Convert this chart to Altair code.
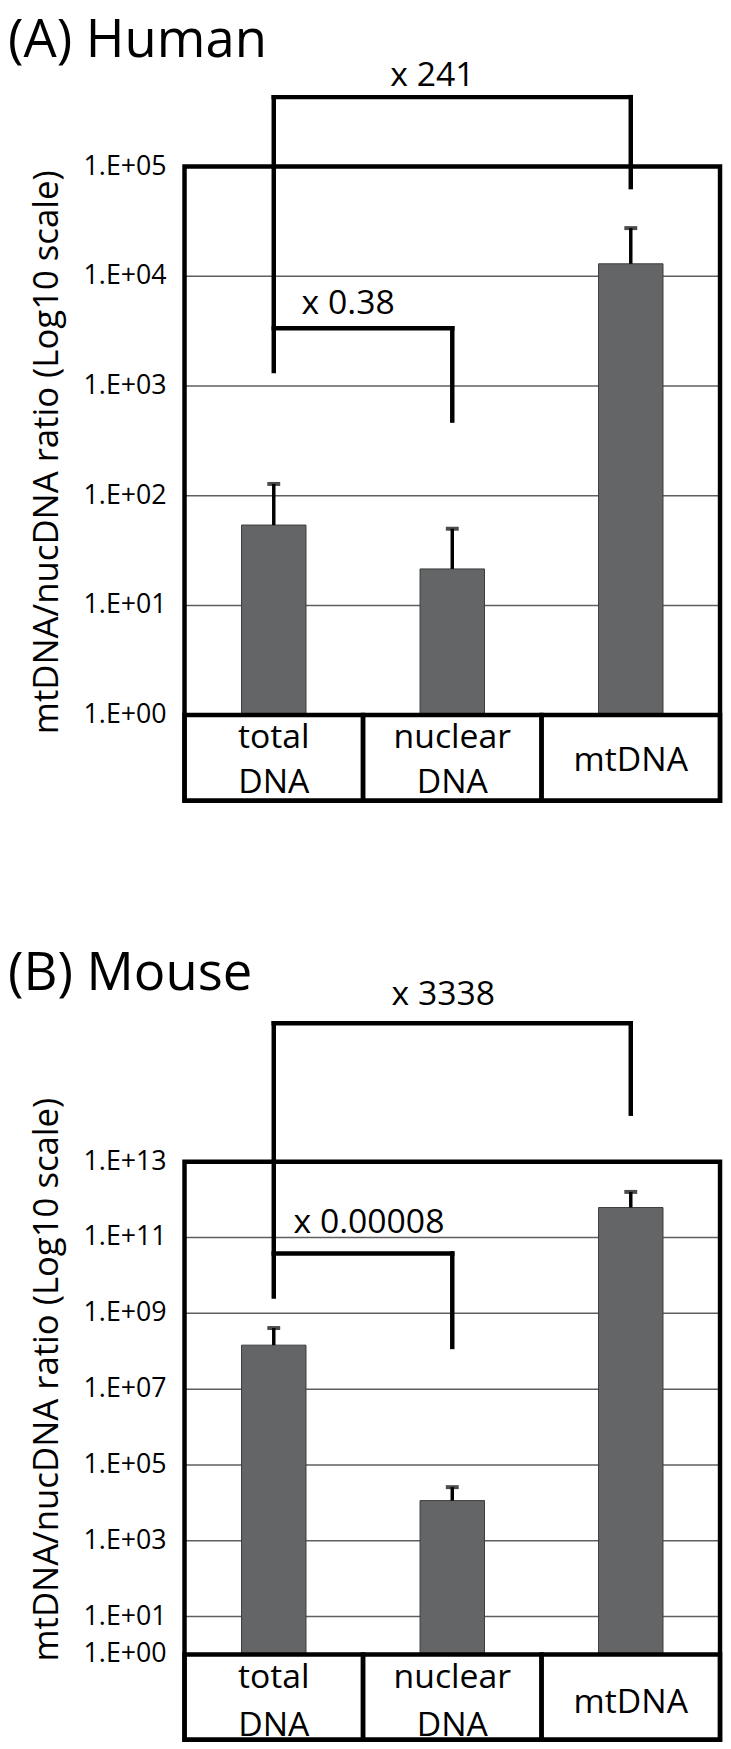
import altair as alt
import pandas as pd

# ---------------- data ----------------
categories = ["total DNA", "nuclear DNA", "mtDNA"]
category_labels = ["total\nDNA", "nuclear\nDNA", "mtDNA"]

human_mean = [54, 21.5, 13000]
human_upper = [128, 50, 27500]
mouse_mean = [1.45e8, 1.15e4, 6.2e11]
mouse_upper = [4.1e8, 2.6e4, 1.6e12]

human_ticks = [1, 10, 100, 1e3, 1e4, 1e5]
human_tick_labels = ["1.E+00", "1.E+01", "1.E+02", "1.E+03", "1.E+04", "1.E+05"]
mouse_ticks = [1, 10, 1e3, 1e5, 1e7, 1e9, 1e11, 1e13]
mouse_tick_labels = ["1.E+00", "1.E+01", "1.E+03", "1.E+05", "1.E+07", "1.E+09",
                     "1.E+11", "1.E+13"]

# comparison brackets (segments from c1/v1 to c2/v2)
human_br_c1 = ["total DNA", "total DNA", "mtDNA", "total DNA", "nuclear DNA"]
human_br_c2 = ["mtDNA", "total DNA", "mtDNA", "nuclear DNA", "nuclear DNA"]
human_br_v1 = [4.3e5, 4.3e5, 4.3e5, 3360, 3360]
human_br_v2 = [4.3e5, 1370, 6.5e4, 3360, 484]

mouse_br_c1 = ["total DNA", "total DNA", "mtDNA", "total DNA", "nuclear DNA"]
mouse_br_c2 = ["mtDNA", "total DNA", "mtDNA", "nuclear DNA", "nuclear DNA"]
mouse_br_v1 = [4.5e16, 4.5e16, 4.5e16, 3.8e10, 3.8e10]
mouse_br_v2 = [4.5e16, 2.8e9, 1.85e14, 3.8e10, 1.3e8]

human_fold = ["x 241", "x 0.38"]
human_fold_y = [5.4e5, 4500]
mouse_fold = ["x 3338", "x 0.00008"]
mouse_fold_y = [1.4e17, 1.35e11]

Y_TITLE = "mtDNA/nucDNA ratio (Log10 scale)"
FONT = "Open Sans"


def panel(title, mean, upper, ticks, tick_labels, dom, height, br, fold, fold_y,
          fold_dx, cat_y_two, cat_y_one, line_h, ytitle_at, title_offset):
    df = pd.DataFrame({"cat": categories, "label": category_labels,
                       "mean": mean, "upper": upper})
    one = pd.DataFrame({"k": [0]})
    tdf = pd.DataFrame({"tick": ticks, "tick_label": tick_labels})
    bdf = pd.DataFrame({"c1": br[0], "c2": br[1], "v1": br[2], "v2": br[3]})
    xs = alt.Scale(domain=categories, paddingInner=0, paddingOuter=0)
    ys = alt.Scale(type="log", domain=dom, nice=False)

    X = alt.X("cat:N", scale=xs, axis=None)
    XL = alt.XDatum(categories[0], bandPosition=0, scale=xs, axis=None)
    XR = alt.X2Datum(categories[-1], bandPosition=1)

    grid = alt.Chart(tdf).mark_rule(color="#5f5f5f", strokeWidth=1.5).encode(
        x=XL, x2=XR, y=alt.Y("tick:Q", scale=ys, axis=None))

    tick_text = alt.Chart(tdf).mark_text(
        font=FONT, fontSize=27, align="right", baseline="middle", dx=-18,
        color="black").encode(
        x=XL, y=alt.Y("tick:Q", scale=ys, axis=None), text="tick_label:N")

    y_title = alt.Chart(one).mark_text(
        font=FONT, fontSize=35, angle=270, align="center", baseline="middle",
        color="black", text=Y_TITLE).encode(
        x=alt.value(-139), y=alt.YDatum(ytitle_at, scale=ys, axis=None))

    bars = alt.Chart(df).mark_bar(size=65, color="#646567", stroke="#3c3c3c",
                                  strokeWidth=1).encode(
        x=X, y=alt.Y("mean:Q", scale=ys, axis=None), y2=alt.Y2Datum(1))

    err = alt.Chart(df).mark_rule(color="black", strokeWidth=3.5).encode(
        x=X, y=alt.Y("mean:Q", scale=ys, axis=None), y2="upper:Q")

    caps = alt.Chart(df).mark_tick(color="black", thickness=4, size=13,
                                   orient="horizontal").encode(
        x=X, y=alt.Y("upper:Q", scale=ys, axis=None))

    cat_box = alt.Chart(df).mark_rect(fill="white", fillOpacity=0, stroke="black",
                                      strokeWidth=4.5).encode(
        x=X, y=alt.YDatum(1, scale=ys, axis=None), y2=alt.Y2Datum(dom[0]))

    frame = alt.Chart(one).mark_rect(fill="white", fillOpacity=0, stroke="black",
                                     strokeWidth=4.5).encode(
        x=XL, x2=XR,
        y=alt.YDatum(ticks[-1], scale=ys, axis=None), y2=alt.Y2Datum(dom[0]))

    text_style = dict(font=FONT, fontSize=34, lineBreak="\n", lineHeight=line_h,
                      baseline="middle", color="black")
    cat_two = alt.Chart(df).transform_filter(
        "indexof(datum.label, '\\n') >= 0").mark_text(**text_style).encode(
        x=X, y=alt.YDatum(cat_y_two, scale=ys, axis=None), text="label:N")
    cat_one = alt.Chart(df).transform_filter(
        "indexof(datum.label, '\\n') < 0").mark_text(**text_style).encode(
        x=X, y=alt.YDatum(cat_y_one, scale=ys, axis=None), text="label:N")

    brackets = alt.Chart(bdf).mark_rule(color="black", strokeWidth=4.5,
                                        strokeCap="square").encode(
        x=alt.X("c1:N", scale=xs, axis=None), x2="c2:N",
        y=alt.Y("v1:Q", scale=ys, axis=None), y2="v2:Q")

    f1 = alt.Chart(pd.DataFrame({"t": [fold[0]], "v": [fold_y[0]]})).mark_text(
        font=FONT, fontSize=34, baseline="alphabetic", color="black", dx=fold_dx[0]).encode(
        x=alt.XDatum(categories[1], scale=xs, axis=None),
        y=alt.Y("v:Q", scale=ys, axis=None), text="t:N")

    f2 = alt.Chart(pd.DataFrame({"t": [fold[1]], "v": [fold_y[1]]})).mark_text(
        font=FONT, fontSize=34, baseline="alphabetic", color="black", dx=fold_dx[1]).encode(
        x=alt.XDatum(categories[0], bandPosition=1, scale=xs, axis=None),
        y=alt.Y("v:Q", scale=ys, axis=None), text="t:N")

    return alt.layer(grid, tick_text, y_title, bars, err, caps, cat_box, frame,
                     cat_two, cat_one, brackets, f1, f2).properties(
        width=540, height=height,
        title=alt.TitleParams(title, anchor="start", frame="group", dx=-178,
                              offset=title_offset, font=FONT, fontSize=53,
                              fontWeight="normal", color="black"))


pA = panel("(A) Human", human_mean, human_upper, human_ticks, human_tick_labels,
           [10 ** -0.78, 1e6], 750,
           (human_br_c1, human_br_c2, human_br_v1, human_br_v2),
           human_fold, human_fold_y, (-20, -15), 0.62, 0.384, 46, 249, -11)

pB = panel("(B) Mouse", mouse_mean, mouse_upper, mouse_ticks, mouse_tick_labels,
           [10 ** -2.25, 1e18], 774,
           (mouse_br_c1, mouse_br_c2, mouse_br_v1, mouse_br_v2),
           mouse_fold, mouse_fold_y, (-9, 6), 0.235, 0.052, 48, 1.78e7, -28.6)

chart = alt.vconcat(pA, pB, spacing=145).properties(
    padding={"left": 0, "top": 0, "right": 0, "bottom": 0}
).configure(font=FONT).configure_view(stroke=None)

chart.save("out.html", embed_options={"renderer": "svg", "actions": False})
